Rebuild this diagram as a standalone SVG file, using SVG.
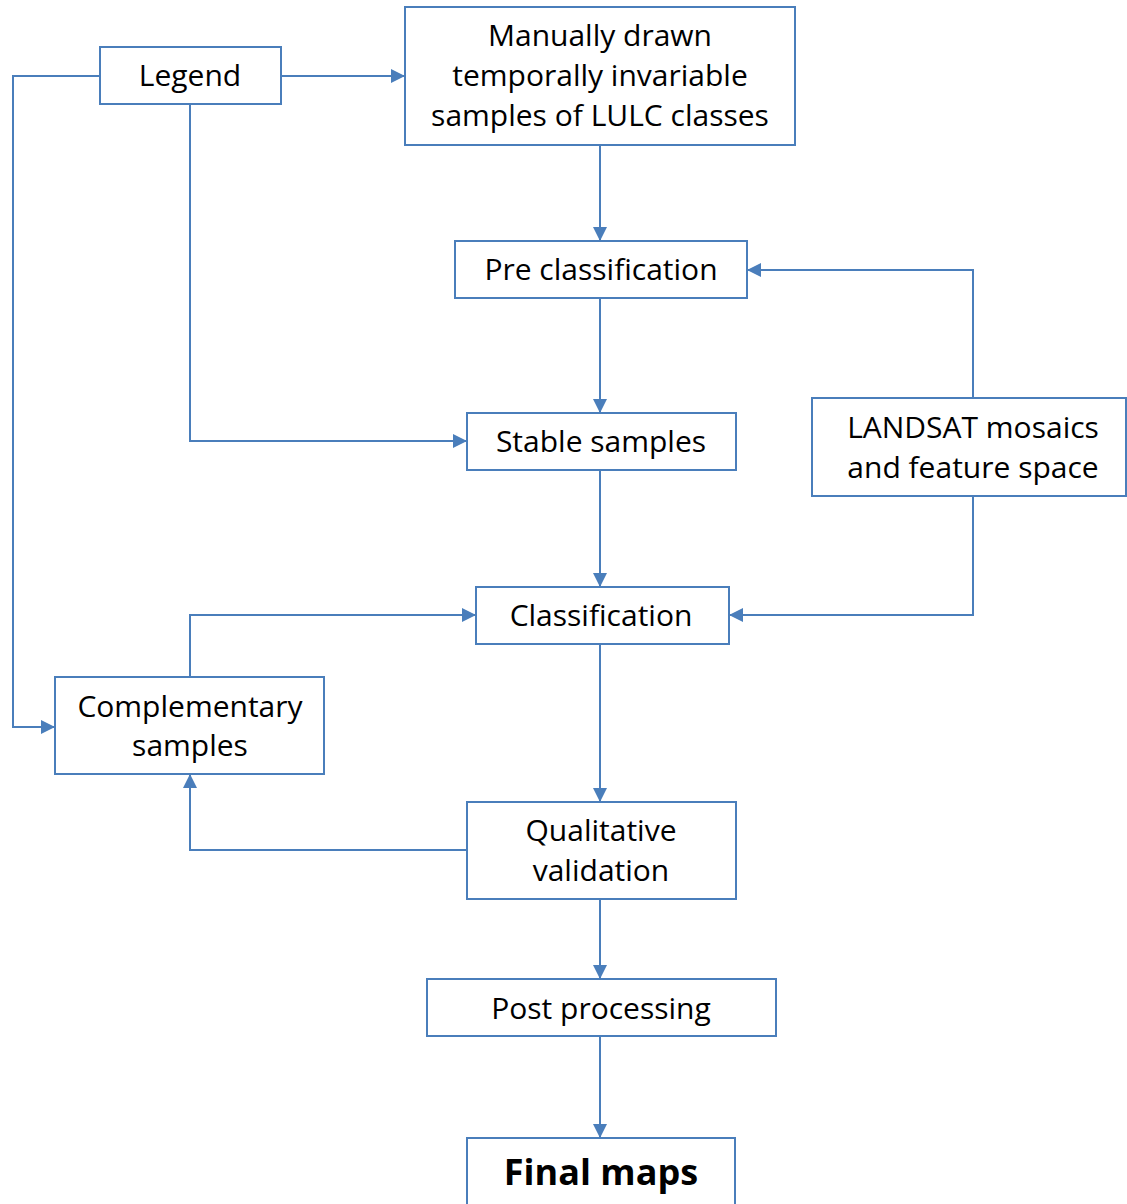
<svg xmlns="http://www.w3.org/2000/svg" width="1127" height="1204" viewBox="0 0 1127 1204">
<defs>
<marker id="arr" viewBox="0 0 14 14" refX="14" refY="7" markerWidth="14" markerHeight="14" markerUnits="userSpaceOnUse" orient="auto">
<path d="M0,0 L14,7 L0,14 z" fill="#4a7ebb"/>
</marker>
<style>
.box{fill:#fff;stroke:#4a7ebb;stroke-width:2}
.t{font-family:"Open Sans",Lato,"Liberation Sans",sans-serif;font-size:30px;fill:#000;text-anchor:middle;font-variant-ligatures:none}
.b{font-weight:bold;font-size:36px}
.c{fill:none;stroke:#4a7ebb;stroke-width:2;marker-end:url(#arr)}
</style>
</defs>
<rect width="1127" height="1204" fill="#fff"/>
<g id="connectors">
<path class="c" d="M281,76 H405"/>
<path class="c" d="M100,76 H13 V727 H55"/>
<path class="c" d="M190,104 V441 H467"/>
<path class="c" d="M600,145 V241"/>
<path class="c" d="M600,298 V413"/>
<path class="c" d="M600,470 V587"/>
<path class="c" d="M973,398 V270 H747"/>
<path class="c" d="M973,496 V615 H729"/>
<path class="c" d="M190,677 V615 H476"/>
<path class="c" d="M600,644 V802"/>
<path class="c" d="M467,850 H190 V774"/>
<path class="c" d="M600,899 V979"/>
<path class="c" d="M600,1036 V1138"/>
</g>
<g id="legend"><rect class="box" x="100" y="47" width="181" height="57"/><text class="t" x="190" y="86">Legend</text></g>
<g id="manual"><rect class="box" x="405" y="7" width="390" height="138"/><text class="t" x="600" y="46">Manually drawn</text><text class="t" x="600" y="86">temporally invariable</text><text class="t" x="600" y="126">samples of LULC classes</text></g>
<g id="preclass"><rect class="box" x="455" y="241" width="292" height="57"/><text class="t" x="601" y="280">Pre classification</text></g>
<g id="stable"><rect class="box" x="467" y="413" width="269" height="57"/><text class="t" x="601" y="452">Stable samples</text></g>
<g id="landsat"><rect class="box" x="812" y="398" width="314" height="98"/><text class="t" x="973" y="438">LANDSAT mosaics</text><text class="t" x="973" y="478">and feature space</text></g>
<g id="classification"><rect class="box" x="476" y="587" width="253" height="57"/><text class="t" x="601" y="626">Classification</text></g>
<g id="complementary"><rect class="box" x="55" y="677" width="269" height="97"/><text class="t" x="190" y="717">Complementary</text><text class="t" x="190" y="756">samples</text></g>
<g id="qualitative"><rect class="box" x="467" y="802" width="269" height="97"/><text class="t" x="601" y="841">Qualitative</text><text class="t" x="601" y="881">validation</text></g>
<g id="post"><rect class="box" x="427" y="979" width="349" height="57"/><text class="t" x="601" y="1019">Post processing</text></g>
<g id="final"><rect class="box" x="467" y="1138" width="268" height="80"/><text class="t b" x="601" y="1185">Final maps</text></g>
</svg>
